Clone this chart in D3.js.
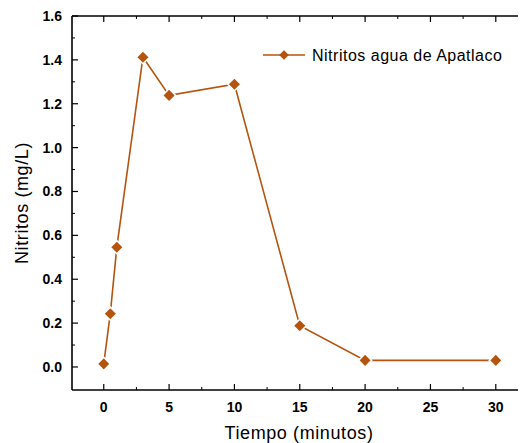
<!DOCTYPE html>
<html lang="es">
<head>
<meta charset="UTF-8">
<title>Nitritos agua de Apatlaco</title>
<script src="https://d3js.org/d3.v7.min.js"></script>
<style>
    body { margin: 0; background: #fff; }
    svg { display: block; font-family: "Liberation Sans", Arial, sans-serif; }
</style>
</head>
<body>
<svg id="chart" width="520" height="443"></svg>
<script>
// data
var tiempo = [0, 0.5, 1, 3, 5, 10, 15, 20, 30];
var nitritos = [0.014, 0.243, 0.546, 1.412, 1.238, 1.289, 0.188, 0.030, 0.030];
var xTicks = [0, 5, 10, 15, 20, 25, 30];
var yTicks = [0.0, 0.2, 0.4, 0.6, 0.8, 1.0, 1.2, 1.4, 1.6];
var serieName = "Nitritos agua de Apatlaco";

var color = "#b4540f";

var svg = d3.select("#chart");
var margin = {left: 72, top: 16, right: 2, bottom: 53};
var width = 520 - margin.left - margin.right,
    height = 443 - margin.top - margin.bottom;

var g = svg.append("g").attr("transform", "translate(" + margin.left + "," + margin.top + ")");

var x = d3.scaleLinear().domain([-2.43, 31.7]).range([0, width]);
var y = d3.scaleLinear().domain([-0.105, 1.6]).range([height, 0]);

// axes lines
g.append("line").attr("x1", 0).attr("x2", width).attr("y1", height).attr("y2", height)
    .attr("stroke", "#000").attr("stroke-width", 1.6);
g.append("line").attr("x1", 0).attr("x2", width).attr("y1", 0).attr("y2", 0)
    .attr("stroke", "#000").attr("stroke-width", 1.6);
g.append("line").attr("x1", 0).attr("x2", 0).attr("y1", 0).attr("y2", height)
    .attr("stroke", "#000").attr("stroke-width", 1.6);

// x ticks (inward, top and bottom)
var xMinor = d3.range(2.5, 31, 5);
xTicks.forEach(function(t) {
    g.append("line").attr("x1", x(t)).attr("x2", x(t)).attr("y1", height).attr("y2", height - 6)
        .attr("stroke", "#000").attr("stroke-width", 1.2);
    g.append("line").attr("x1", x(t)).attr("x2", x(t)).attr("y1", 0).attr("y2", 6)
        .attr("stroke", "#000").attr("stroke-width", 1.2);
    g.append("text").attr("x", x(t)).attr("y", height + 22)
        .attr("text-anchor", "middle").attr("font-size", 14).attr("font-weight", "bold")
        .text(t);
});
xMinor.forEach(function(t) {
    g.append("line").attr("x1", x(t)).attr("x2", x(t)).attr("y1", height).attr("y2", height - 3)
        .attr("stroke", "#000").attr("stroke-width", 1);
    g.append("line").attr("x1", x(t)).attr("x2", x(t)).attr("y1", 0).attr("y2", 3)
        .attr("stroke", "#000").attr("stroke-width", 1);
});

// y ticks (inward)
yTicks.forEach(function(t) {
    g.append("line").attr("x1", 0).attr("x2", 6).attr("y1", y(t)).attr("y2", y(t))
        .attr("stroke", "#000").attr("stroke-width", 1.2);
    g.append("text").attr("x", -10).attr("y", y(t)).attr("dy", "0.35em")
        .attr("text-anchor", "end").attr("font-size", 14).attr("font-weight", "bold")
        .text(d3.format(".1f")(t));
});
d3.range(0.1, 1.6, 0.2).forEach(function(t) {
    g.append("line").attr("x1", 0).attr("x2", 3).attr("y1", y(t)).attr("y2", y(t))
        .attr("stroke", "#000").attr("stroke-width", 1);
});

// axis titles
g.append("text").attr("x", 227).attr("y", height + 49)
    .attr("text-anchor", "middle").attr("font-size", 18).attr("letter-spacing", 0.6)
    .text("Tiempo (minutos)");
g.append("text").attr("transform", "translate(-44," + (height / 2) + ") rotate(-90)")
    .attr("text-anchor", "middle").attr("font-size", 18).attr("letter-spacing", 0.6)
    .text("Nitritos (mg/L)");

// series
var pts = tiempo.map(function(d, i) { return [d, nitritos[i]]; });
var line = d3.line().x(function(d) { return x(d[0]); }).y(function(d) { return y(d[1]); });
g.append("path").datum(pts).attr("d", line)
    .attr("fill", "none").attr("stroke", color).attr("stroke-width", 1.6);

var diamond = d3.symbol().type(d3.symbolDiamond2).size(110);
g.selectAll(".pt").data(pts).enter().append("path")
    .attr("class", "pt")
    .attr("transform", function(d) { return "translate(" + x(d[0]) + "," + y(d[1]) + ")"; })
    .attr("d", diamond)
    .attr("fill", color).attr("stroke", "#fff").attr("stroke-width", 1.5);

// legend
var leg = svg.append("g").attr("transform", "translate(263,55)");
leg.append("line").attr("x1", 0).attr("x2", 42).attr("y1", 0).attr("y2", 0)
    .attr("stroke", color).attr("stroke-width", 1.6);
leg.append("path").attr("transform", "translate(21,0)")
    .attr("d", d3.symbol().type(d3.symbolDiamond2).size(60))
    .attr("fill", color);
leg.append("text").attr("x", 49).attr("y", 0).attr("dy", "0.35em")
    .attr("font-size", 16).attr("letter-spacing", 0.5).text(serieName);
</script>
</body>
</html>
